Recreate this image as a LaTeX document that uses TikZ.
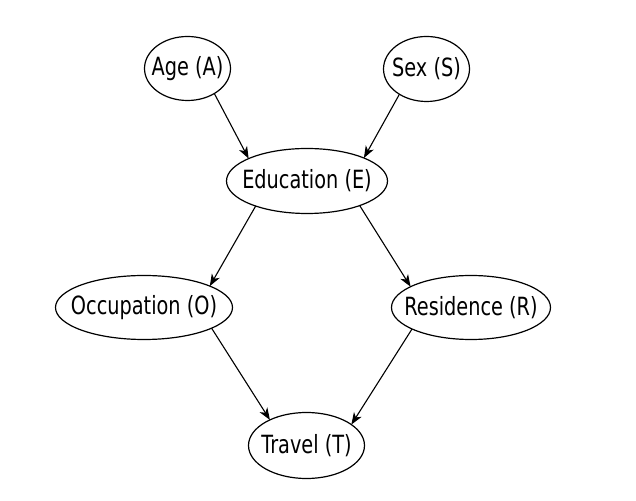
\documentclass[tikz,border=0pt]{standalone}
\usepackage{fontspec}
\setmainfont{DejaVu Sans}
\usepackage{graphicx}
\usetikzlibrary{arrows.meta,shapes.geometric}
\newcommand{\lbl}[1]{\makebox[0pt]{\scalebox{1}[1.3]{#1}}}
\begin{document}
\begin{tikzpicture}[x=1pt,y=1pt,
  ell/.style={draw, ellipse, line width=1.2pt, inner sep=0pt, outer sep=0pt,
    font=\fontsize{19.3}{22}\selectfont},
  edge/.style={line width=1.1pt, -{Stealth[length=12pt,width=9pt,inset=3.5pt]}}]
\fill[white] (0,0) rectangle (636,500);
\useasboundingbox (0,0) rectangle (636,500);
\node[ell, minimum width=86pt, minimum height=64pt] (A) at (187.5,431.5) {\lbl{Age (A)}};
\node[ell, minimum width=86pt, minimum height=65pt] (S) at (426.5,431) {\lbl{Sex (S)}};
\node[ell, minimum width=161pt, minimum height=65pt] (E) at (307,319) {\lbl{Education (E)}};
\node[ell, minimum width=177pt, minimum height=64pt] (O) at (144,192.5) {\lbl{Occupation (O)}};
\node[ell, minimum width=159pt, minimum height=64pt] (R) at (471,192.5) {\lbl{Residence (R)}};
\node[ell, minimum width=116pt, minimum height=66pt] (T) at (306.5,54.5) {\lbl{Travel (T)}};
\draw[edge] (A.-43.9) -- (E.159.95);
\draw[edge] (S.-137.1) -- (E.22.5);
\draw[edge] (E.-154) -- (O.18);
\draw[edge] (E.-25.2) -- (R.161.9);
\draw[edge] (O.-17.5) -- (T.145.6);
\draw[edge] (R.-160.3) -- (T.25.4);
\end{tikzpicture}
\end{document}
